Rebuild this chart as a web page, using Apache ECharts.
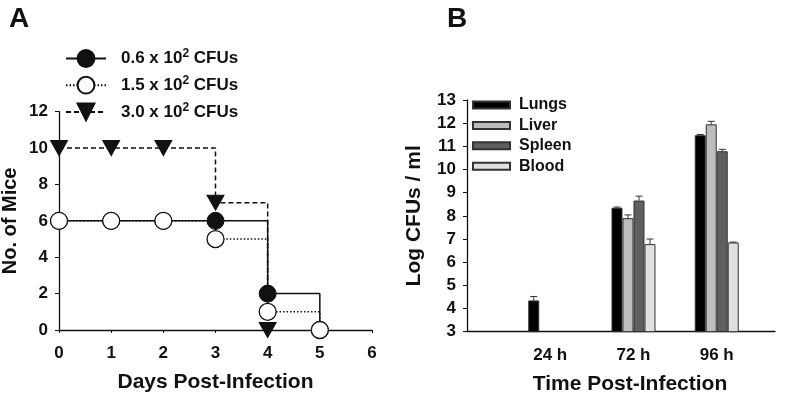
<!DOCTYPE html>
<html>
<head>
<meta charset="utf-8">
<script src="https://cdn.jsdelivr.net/npm/echarts@6/dist/echarts.min.js"></script>
<style>
    html, body { margin: 0; padding: 0; background: #fff; }
    #chart { width: 800px; height: 394px; }
</style>
</head>
<body>
<div id="chart"></div>
<script>
    // panel A: survival
    const days = [0, 1, 2, 3, 4, 5];
    const mice06 = [6, 6, 6, 6, 2, 0];
    const mice15 = [6, 6, 6, 5, 1, 0];
    const mice30 = [10, 10, 10, 7, 0];
    const doses = ['0.6', '1.5', '3.0'];

    // panel B: bacterial load (x position 1,2,3 = 24/72/96 h)
    const timeLabels = ['24 h', '72 h', '96 h'];
    const timePos = [1, 2, 3];
    const organs = ['Lungs', 'Liver', 'Spleen', 'Blood'];
    const lungs = [4.35, 8.35, 11.48];
    const liver = [null, 7.9, 11.95];
    const spleen = [null, 8.66, 10.79];
    const blood = [null, 6.78, 6.85];
    const lungsErr = [0.17, 0.03, 0.03];
    const liverErr = [null, 0.14, 0.13];
    const spleenErr = [null, 0.19, 0.08];
    const bloodErr = [null, 0.22, 0.02];

    const FONT = 'Liberation Sans';
    const INK = '#111';
    const BAR_W = 11;

    const chart = echarts.init(document.getElementById('chart'));

    const doseName = d => d + ' x 10² CFUs';

    function pairs(xs, ys) {
        return xs.map((x, i) => [x, ys[i]]).filter(p => p[1] != null);
    }

    const barColors = ['#000000', '#bdbdbd', '#5f5f5f', '#e0e0e0'];
    const barVals = [lungs, liver, spleen, blood];
    const barErrs = [lungsErr, liverErr, spleenErr, bloodErr];

    const barSeries = organs.map((o, i) => ({
        name: o,
        type: 'bar',
        xAxisIndex: 1,
        yAxisIndex: 1,
        barWidth: BAR_W,
        barGap: '0%',
        data: pairs(timePos, barVals[i]),
        itemStyle: { color: barColors[i], borderColor: '#333', borderWidth: 1 },
        emphasis: { disabled: true }
    }));

    // error bars: upper whisker with cap, shifted to each bar's slot
    const errSeries = organs.map((o, i) => ({
        type: 'custom',
        xAxisIndex: 1,
        yAxisIndex: 1,
        z: 5,
        silent: true,
        data: timePos.map((x, k) => [x, barVals[i][k], barErrs[i][k]]).filter(d => d[1] != null && d[2] > 0),
        renderItem: function (params, api) {
            const off = (i - 1.5) * BAR_W;
            const b = api.coord([api.value(0), api.value(1)]);
            const t = api.coord([api.value(0), api.value(1) + api.value(2)]);
            const x = b[0] + off;
            const st = { stroke: '#333', lineWidth: 1 };
            return {
                type: 'group',
                children: [
                    { type: 'line', shape: { x1: x, y1: b[1], x2: x, y2: t[1] }, style: st },
                    { type: 'line', shape: { x1: x - 3.5, y1: t[1], x2: x + 3.5, y2: t[1] }, style: st }
                ]
            };
        }
    }));

    const lineBase = {
        type: 'line',
        xAxisIndex: 0,
        yAxisIndex: 0,
        step: 'end',
        symbolSize: 17,
        emphasis: { disabled: true }
    };

    const tickFont = { fontFamily: FONT, fontSize: 17, fontWeight: 'bold', color: INK };
    const nameFont = { fontFamily: FONT, fontSize: 21, fontWeight: 'bold', color: INK };

    const option = {
        animation: false,
        textStyle: { fontFamily: FONT, fontWeight: 'bold', color: INK },
        title: [
            { text: 'A', left: 4, top: 0, textStyle: { fontFamily: FONT, fontSize: 28, fontWeight: 'bold', color: INK } },
            { text: 'B', left: 442, top: 0, textStyle: { fontFamily: FONT, fontSize: 28, fontWeight: 'bold', color: INK } }
        ],
        legend: [
            {
                data: doses.map(doseName),
                orient: 'vertical',
                left: 60,
                top: 43,
                itemWidth: 40,
                itemHeight: 21,
                itemGap: 6.8,
                selectedMode: false,
                formatter: name => '{a|' + name.replace('10² CFUs', '10') + '}{s|2}{a| CFUs}',
                textStyle: {
                    padding: [0, 0, 0, 10],
                    rich: {
                        a: { fontFamily: FONT, fontSize: 17, fontWeight: 'bold', color: INK, lineHeight: 21 },
                        s: { fontFamily: FONT, fontSize: 12, fontWeight: 'bold', color: INK, verticalAlign: 'top', lineHeight: 12 }
                    }
                }
            },
            {
                data: organs,
                orient: 'vertical',
                left: 467,
                top: 92,
                itemWidth: 37,
                itemHeight: 7,
                itemGap: 4.4,
                icon: 'rect',
                selectedMode: false,
                textStyle: { fontFamily: FONT, fontSize: 16, fontWeight: 'bold', color: INK, lineHeight: 16, padding: [0, 0, 0, 4] }
            }
        ],
        grid: [
            { left: 59, right: 428, top: 111.7, bottom: 64, outerBoundsMode: 'none' },
            { left: 467, right: 25, top: 100, bottom: 62.3, outerBoundsMode: 'none' }
        ],
        xAxis: [
            {
                type: 'value', gridIndex: 0, min: 0, max: 6, interval: 1,
                name: 'Days Post-Infection', nameLocation: 'middle', nameGap: 42,
                nameTextStyle: nameFont,
                axisLine: { lineStyle: { color: INK, width: 1.3 } },
                axisTick: { length: 3, lineStyle: { color: INK } },
                axisLabel: Object.assign({ margin: 15 }, tickFont),
                splitLine: { show: false }
            },
            {
                type: 'value', gridIndex: 1, min: 0, max: 3.7, interval: 1,
                name: 'Time Post-Infection', nameLocation: 'middle', nameGap: 42,
                nameTextStyle: Object.assign({ padding: [0, 0, 0, 18] }, nameFont),
                axisLine: { lineStyle: { color: INK, width: 1.3 } },
                axisTick: { show: false },
                axisLabel: Object.assign({
                    margin: 15,
                    showMaxLabel: false,
                    formatter: v => {
                        const k = timePos.indexOf(v);
                        return k >= 0 ? timeLabels[k] : '';
                    }
                }, tickFont),
                splitLine: { show: false }
            }
        ],
        yAxis: [
            {
                type: 'value', gridIndex: 0, min: 0, max: 12, interval: 2,
                name: 'No. of Mice', nameLocation: 'middle', nameGap: 39,
                nameTextStyle: Object.assign({}, nameFont, { fontSize: 20 }),
                axisLine: { show: true, lineStyle: { color: INK, width: 1.3 } },
                axisTick: { show: true, length: 4, lineStyle: { color: INK } },
                axisLabel: Object.assign({ margin: 11 }, tickFont),
                splitLine: { show: false }
            },
            {
                type: 'value', gridIndex: 1, min: 3, max: 13, interval: 1,
                name: 'Log CFUs / ml', nameLocation: 'middle', nameGap: 42,
                nameTextStyle: nameFont,
                axisLine: { show: true, lineStyle: { color: INK, width: 1.3 } },
                axisTick: { show: true, length: 4, lineStyle: { color: INK } },
                axisLabel: Object.assign({ margin: 11 }, tickFont),
                splitLine: { show: false }
            }
        ],
        series: [
            Object.assign({}, lineBase, {
                name: doseName(doses[2]),
                data: pairs(days, mice30),
                symbol: 'triangle',
                symbolSize: [17, 15],
                symbolRotate: 180,
                lineStyle: { color: INK, width: 1.5, type: [5, 3] },
                itemStyle: { color: INK, borderColor: INK, borderWidth: 1 }
            }),
            Object.assign({}, lineBase, {
                name: doseName(doses[0]),
                data: pairs(days, mice06),
                symbol: 'circle',
                lineStyle: { color: INK, width: 1.5, type: 'solid' },
                itemStyle: { color: INK, borderColor: INK, borderWidth: 1 }
            }),
            Object.assign({}, lineBase, {
                name: doseName(doses[1]),
                data: pairs(days, mice15),
                symbol: 'circle',
                lineStyle: { color: INK, width: 1.5, type: [1.5, 2] },
                itemStyle: { color: '#fff', borderColor: INK, borderWidth: 1.3 }
            })
        ].concat(barSeries, errSeries)
    };

    chart.setOption(option);
</script>
</body>
</html>
